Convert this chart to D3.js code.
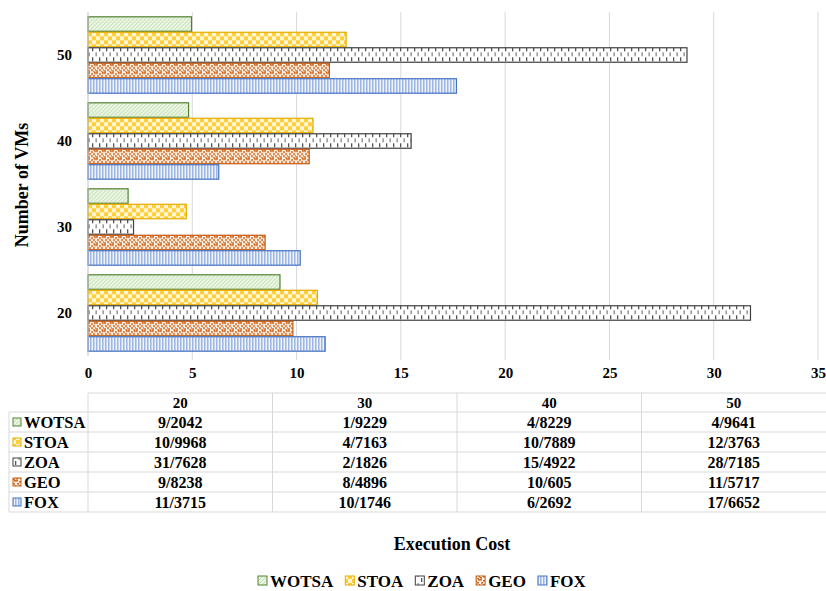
<!DOCTYPE html>
<html>
<head>
<meta charset="utf-8">
<script src="https://cdn.jsdelivr.net/npm/d3@7/dist/d3.min.js"></script>
<style>
  html, body { margin: 0; padding: 0; background: #fff; }
  svg text { font-family: "Liberation Serif", "Times New Roman", serif; font-weight: bold; fill: #000; }
</style>
</head>
<body>
<svg id="chart" width="826" height="591"></svg>
<script>
// Number of VMs (categories) and execution cost per algorithm
const vms = ["20", "30", "40", "50"];
const seriesNames = ["WOTSA", "STOA", "ZOA", "GEO", "FOX"];
const wotsa = [9.2042, 1.9229, 4.8229, 4.9641];
const stoa  = [10.9968, 4.7163, 10.7889, 12.3763];
const zoa   = [31.7628, 2.1826, 15.4922, 28.7185];
const geo   = [9.8238, 8.4896, 10.605, 11.5717];
const fox   = [11.3715, 10.1746, 6.2692, 17.6652];
const xTicks = [0, 5, 10, 15, 20, 25, 30, 35];

const seriesValues = [wotsa, stoa, zoa, geo, fox];
const styles = [
  { id: "pWotsa", stroke: "#548235" },
  { id: "pStoa",  stroke: "#e6ac00" },
  { id: "pZoa",   stroke: "#404040" },
  { id: "pGeo",   stroke: "#c55a11" },
  { id: "pFox",   stroke: "#4472c4" }
];

const svg = d3.select("#chart");
const defs = svg.append("defs");

// WOTSA: light green with fine diagonal hatching
{
  const p = defs.append("pattern").attr("id", "pWotsa").attr("patternUnits", "userSpaceOnUse")
    .attr("width", 4).attr("height", 4);
  p.append("rect").attr("width", 4).attr("height", 4).attr("fill", "#eaf4e2");
  p.append("path").attr("d", "M-1,1 L1,-1 M0,4 L4,0 M3,5 L5,3").attr("stroke", "#c2dfae").attr("stroke-width", 1);
}
// STOA: gold checkerboard
{
  const p = defs.append("pattern").attr("id", "pStoa").attr("patternUnits", "userSpaceOnUse")
    .attr("width", 8).attr("height", 8);
  p.append("rect").attr("width", 8).attr("height", 8).attr("fill", "#fff6d6");
  p.append("rect").attr("width", 4).attr("height", 4).attr("fill", "#ffcf3a");
  p.append("rect").attr("x", 4).attr("y", 4).attr("width", 4).attr("height", 4).attr("fill", "#ffcf3a");
}
// ZOA: staggered gray vertical dashes
{
  const p = defs.append("pattern").attr("id", "pZoa").attr("patternUnits", "userSpaceOnUse")
    .attr("width", 7).attr("height", 10);
  p.append("rect").attr("width", 7).attr("height", 10).attr("fill", "#fff");
  p.append("rect").attr("x", 1).attr("y", 1).attr("width", 1.3).attr("height", 4).attr("fill", "#555");
  p.append("rect").attr("x", 4.5).attr("y", 6).attr("width", 1.3).attr("height", 4).attr("fill", "#888");
}
// GEO: orange confetti
{
  const p = defs.append("pattern").attr("id", "pGeo").attr("patternUnits", "userSpaceOnUse")
    .attr("width", 8).attr("height", 8);
  p.append("rect").attr("width", 8).attr("height", 8).attr("fill", "#fdf0e6");
  [[0,0],[3,1],[6,0],[1,3],[5,3],[3,5],[7,5],[0,6],[5,7]].forEach(([x, y]) => {
    p.append("rect").attr("x", x).attr("y", y).attr("width", 2).attr("height", 1.6).attr("fill", "#d2691e");
  });
}
// FOX: blue vertical stripes
{
  const p = defs.append("pattern").attr("id", "pFox").attr("patternUnits", "userSpaceOnUse")
    .attr("width", 3).attr("height", 3);
  p.append("rect").attr("width", 3).attr("height", 3).attr("fill", "#eef3fb");
  p.append("rect").attr("x", 0).attr("width", 1.5).attr("height", 3).attr("fill", "#9db6e2");
}

// Scales
const plotLeft = 88, plotRight = 818, plotTop = 12, plotBottom = 356;
const x = d3.scaleLinear().domain([0, 35]).range([plotLeft, plotRight]);
const y0 = d3.scaleBand().domain(vms.slice().reverse()).range([plotTop, plotBottom])
  .paddingInner(0.1).paddingOuter(0.05);
const y1 = d3.scaleBand().domain(seriesNames).range([0, y0.bandwidth()]);

// Vertical gridlines
svg.append("g").selectAll("line").data(xTicks.slice(1)).join("line")
  .attr("x1", d => x(d)).attr("x2", d => x(d))
  .attr("y1", plotTop).attr("y2", plotBottom + 4)
  .attr("stroke", "#d9d9d9").attr("stroke-width", 1);

// X-axis tick labels
const xAxis = d3.axisBottom(x).tickValues(xTicks).tickSize(0).tickPadding(0);
const gx = svg.append("g").attr("transform", `translate(0,${plotBottom + 11})`).call(xAxis);
gx.select(".domain").remove();
gx.selectAll("text").attr("font-size", 15).attr("dy", "0.71em");

// Y-axis labels
const yAxis = d3.axisLeft(y0).tickSize(0).tickPadding(16);
const gy = svg.append("g").attr("transform", `translate(${plotLeft},0)`).call(yAxis);
gy.select(".domain").remove();
gy.selectAll("text").attr("font-size", 15);

// Bars
const groups = svg.append("g").selectAll("g").data(vms).join("g")
  .attr("transform", d => `translate(0,${y0(d)})`);
groups.selectAll("rect")
  .data((d, i) => seriesNames.map((s, k) => ({ s, k, v: seriesValues[k][i] })))
  .join("rect")
  .attr("x", x(0))
  .attr("y", d => y1(d.s) + 0.5)
  .attr("width", d => x(d.v) - x(0))
  .attr("height", y1.bandwidth() - 1)
  .attr("fill", d => `url(#${styles[d.k].id})`)
  .attr("stroke", d => styles[d.k].stroke)
  .attr("stroke-width", 1.2);

// Left axis line
svg.append("line").attr("x1", plotLeft).attr("x2", plotLeft)
  .attr("y1", plotTop).attr("y2", plotBottom)
  .attr("stroke", "#bfbfbf").attr("stroke-width", 1);

// Y-axis title
svg.append("text").attr("transform", "translate(28,185) rotate(-90)")
  .attr("text-anchor", "middle").attr("font-size", 18).text("Number of VMs");

// Data table
const tableTop = 393, headH = 19, rowH = 20, labelLeft = 9;
const colW = (826 - x(0)) / vms.length;
const colEdges = vms.map((d, i) => x(0) + i * colW);
const tbl = svg.append("g");
const gridColor = "#d9d9d9";
const tableBottom = tableTop + headH + rowH * seriesNames.length;

// Horizontal rules
tbl.append("line").attr("x1", x(0)).attr("x2", 826).attr("y1", tableTop).attr("y2", tableTop)
  .attr("stroke", gridColor);
d3.range(seriesNames.length + 1).forEach(r => {
  const yy = tableTop + headH + r * rowH;
  tbl.append("line").attr("x1", labelLeft).attr("x2", 826).attr("y1", yy).attr("y2", yy)
    .attr("stroke", gridColor);
});
// Vertical rules
tbl.append("line").attr("x1", labelLeft).attr("x2", labelLeft)
  .attr("y1", tableTop + headH).attr("y2", tableBottom).attr("stroke", gridColor);
colEdges.forEach(cx => {
  tbl.append("line").attr("x1", cx).attr("x2", cx).attr("y1", tableTop).attr("y2", tableBottom)
    .attr("stroke", gridColor);
});

// Header cells
tbl.selectAll("text.head").data(vms).join("text").attr("class", "head")
  .attr("x", (d, i) => colEdges[i] + colW / 2).attr("y", tableTop + headH / 2 + 5)
  .attr("text-anchor", "middle").attr("font-size", 15).text(d => d);

// Row labels with pattern keys
seriesNames.forEach((s, k) => {
  const yy = tableTop + headH + k * rowH;
  tbl.append("rect").attr("x", 13).attr("y", yy + 6).attr("width", 8).attr("height", 8)
    .attr("fill", `url(#${styles[k].id})`).attr("stroke", styles[k].stroke).attr("stroke-width", 1);
  tbl.append("text").attr("x", 24).attr("y", yy + rowH / 2 + 6)
    .attr("font-size", 16.5).text(s);
  vms.forEach((v, i) => {
    tbl.append("text").attr("x", colEdges[i] + colW / 2).attr("y", yy + rowH / 2 + 5.5)
      .attr("text-anchor", "middle").attr("font-size", 16)
      .text(String(seriesValues[k][i]).replace(".", "/"));
  });
});

// X-axis title
svg.append("text").attr("x", 452).attr("y", 550).attr("text-anchor", "middle")
  .attr("font-size", 18).text("Execution Cost");

// Bottom legend
const legend = svg.append("g").attr("transform", "translate(0,587)");
let lx = 258;
seriesNames.forEach((s, k) => {
  legend.append("rect").attr("x", lx).attr("y", -11).attr("width", 9).attr("height", 9)
    .attr("fill", `url(#${styles[k].id})`).attr("stroke", styles[k].stroke).attr("stroke-width", 1);
  const t = legend.append("text").attr("x", lx + 12).attr("y", 0).attr("font-size", 17).text(s);
  lx += 12 + t.node().getComputedTextLength() + 12;
});
</script>
</body>
</html>
